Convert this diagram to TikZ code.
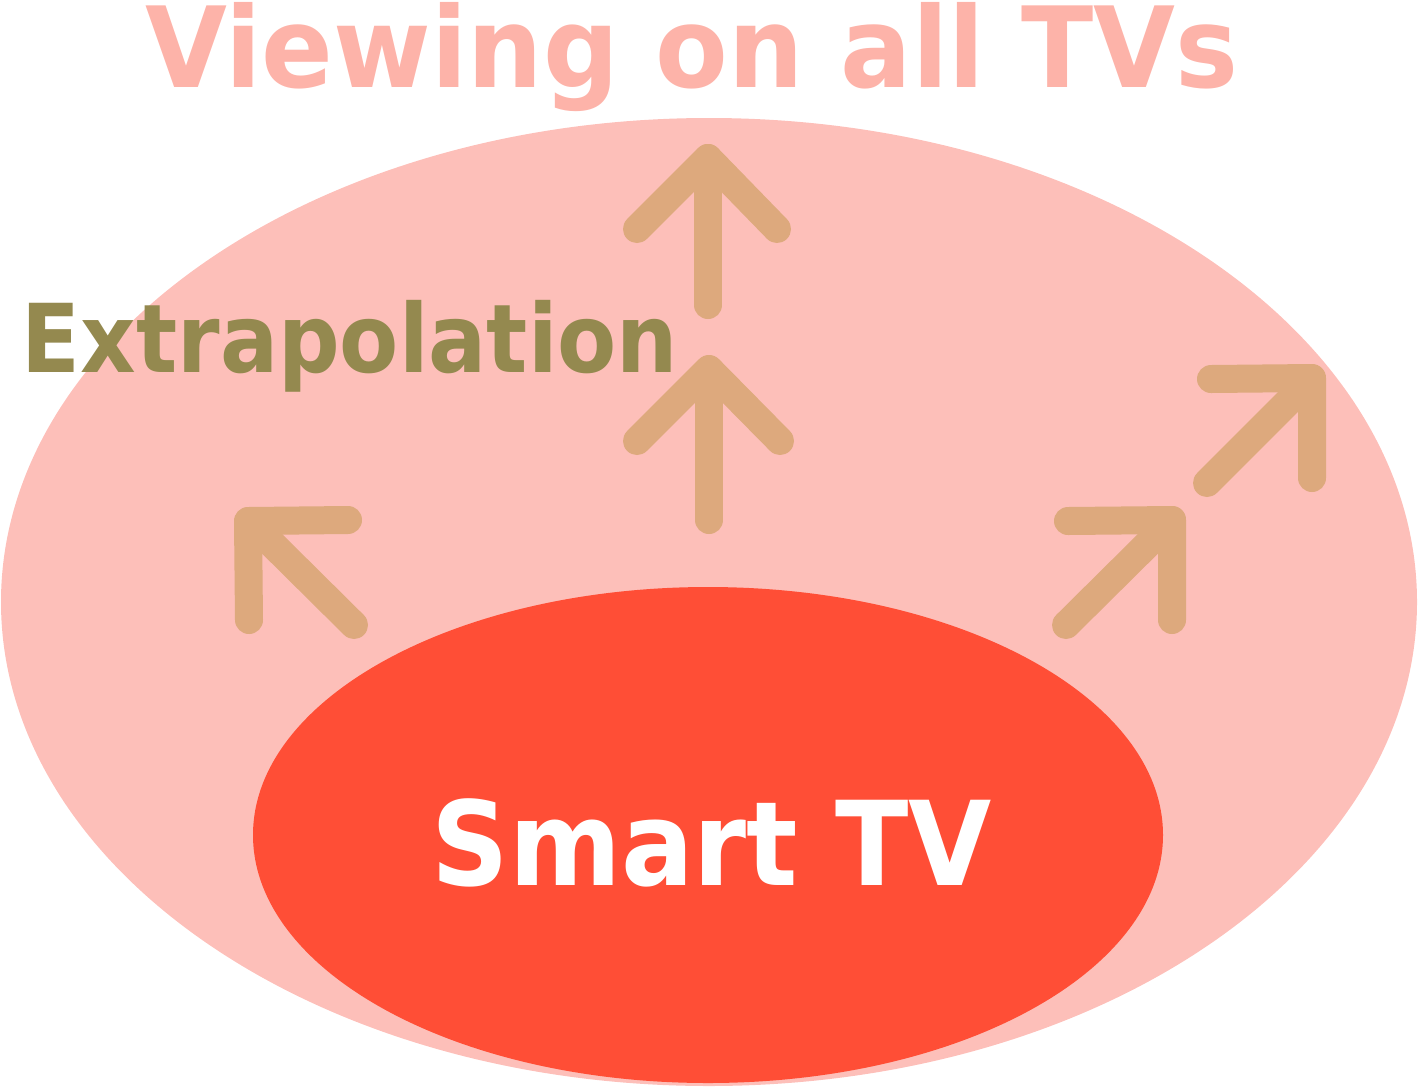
\documentclass[tikz,border=0pt]{standalone}
\usepackage{fontspec}
\setmainfont{DejaVu Sans}
\usetikzlibrary{shapes.geometric}
\definecolor{outerfill}{HTML}{FDBFB9}
\definecolor{innerfill}{HTML}{FF4E36}
\definecolor{titlecol}{HTML}{FDB3A9}
\definecolor{olive}{HTML}{94894F}
\definecolor{arrowcol}{HTML}{DDA97D}
\tikzset{
  chev/.style={draw=arrowcol, line width=28pt, line cap=round, line join=round},
  blob/.style={ellipse, inner sep=0pt, draw=none},
  lbl/.style={anchor=base, inner sep=0pt},
}
\begin{document}
\begin{tikzpicture}[x=1pt,y=-1pt]
\useasboundingbox (0,0) rectangle (1419,1088);
\node[blob, fill=outerfill, minimum width=1416pt, minimum height=968pt] (outer) at (709,602) {};
\node[blob, fill=innerfill, minimum width=910pt, minimum height=496pt] (inner) at (708,835) {};
% arrows
\draw[chev] (708,305) -- (708,158);
\draw[chev] (637,229) -- (708,158) -- (777,229);
\draw[chev] (709,520) -- (709,370);
\draw[chev] (637,441) -- (709,369) -- (780,441);
\draw[chev] (354,625) -- (249,521);
\draw[chev] (249,620) -- (248,521) -- (348,520);
\draw[chev] (1066,625) -- (1172,520);
\draw[chev] (1068,521) -- (1172,520) -- (1172,620);
\draw[chev] (1207,483) -- (1311,379);
\draw[chev] (1211,379) -- (1312,378) -- (1312,478);
% texts
\node[lbl, text=titlecol, font=\bfseries\fontsize{112}{112}\selectfont] (title) at (692,87) {\scalebox{0.945}[1]{Viewing on all TVs}};
\node[lbl, text=olive, font=\bfseries\fontsize{95}{95}\selectfont] (extra) at (350,372) {\scalebox{0.907}[1]{Extrapolation}};
\node[lbl, text=white, font=\bfseries\fontsize{117}{117}\selectfont] (smart) at (712,885) {\scalebox{0.919}[1]{Smart TV}};
\end{tikzpicture}
\end{document}
